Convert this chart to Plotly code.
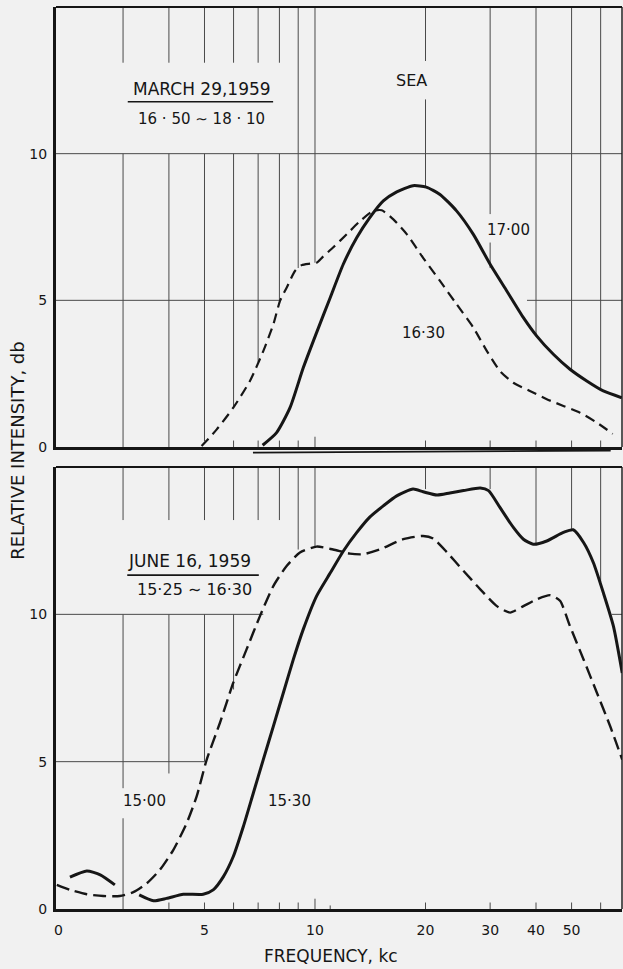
import math
import plotly.graph_objects as go

# ---------------- data (frequency in kc, relative intensity in db) ----------------
MAR_1700_F = [7.2, 7.86, 8.55, 9.29, 10.1, 11.0, 11.94, 13.0, 14.1, 15.35, 16.7, 18.5, 20.1,
              21.9, 24.3, 27.0, 30.0, 33.3, 36.96, 40.2, 44.6, 49.5, 55.0, 61.0, 68.5]
MAR_1700_V = [0.06, 0.49, 1.34, 2.7, 3.9, 5.09, 6.23, 7.14, 7.82, 8.39, 8.7, 8.91, 8.86,
              8.61, 8.05, 7.25, 6.23, 5.32, 4.41, 3.78, 3.16, 2.65, 2.25, 1.91, 1.68]

MAR_1630_F = [4.91, 5.40, 5.99, 6.65, 7.23, 7.70, 8.03, 8.37, 8.82, 9.2, 9.69, 10.1, 10.5,
              11.2, 12.2, 13.26, 14.42, 15.2, 16.35, 17.8, 19.7, 21.9, 24.3, 27.0, 29.4,
              31.9, 34.7, 38.5, 42.8, 47.5, 52.7, 58.6, 64.7]
MAR_1630_V = [0.03, 0.6, 1.34, 2.25, 3.27, 4.18, 4.98, 5.43, 6.0, 6.2, 6.25, 6.28, 6.48,
              6.8, 7.25, 7.7, 8.05, 8.07, 7.76, 7.25, 6.45, 5.66, 4.87, 4.07, 3.27,
              2.59, 2.19, 1.91, 1.63, 1.4, 1.17, 0.83, 0.45]

JUN_1530_F = [2.15, 2.39, 2.6, 2.85, None,
              3.32, 3.63, 3.94, 4.38, 4.96, 5.28, 5.63, 5.99, 6.38, 6.79, 7.23, 7.7, 8.2,
              8.73, 9.29, 10.1, 11.0, 11.95, 13.0, 14.1, 15.35, 16.7, 18.5, 19.7, 21.5,
              23.3, 25.4, 28.2, 29.7, 31.9, 34.7, 36.96, 39.3, 42.8, 47.5, 50.5, 53.9,
              57.3, 61.0, 65.0, 68.7]
JUN_1530_V = [1.08, 1.29, 1.16, 0.82, None,
              0.48, 0.28, 0.36, 0.5, 0.5, 0.65, 1.1, 1.78, 2.8, 3.93, 5.07, 6.2, 7.34,
              8.47, 9.49, 10.62, 11.4, 12.15, 12.78, 13.3, 13.68, 14.02, 14.25, 14.16, 14.05,
              14.12, 14.2, 14.29, 14.2, 13.63, 12.95, 12.55, 12.38, 12.49, 12.78, 12.87, 12.44,
              11.76, 10.74, 9.6, 8.01]

JUN_1500_F = [1.98, 2.15, 2.39, 2.65, 2.94, 3.2, 3.48, 3.78, 4.11, 4.47, 4.76, 5.07, 5.51,
              5.99, 6.51, 7.08, 7.7, 8.37, 9.1, 10.1, 11.2, 12.45, 13.5, 15.0, 17.4, 19.7,
              21.0, 22.9, 25.4, 28.2, 31.3, 34.0, 36.96, 40.2, 43.7, 46.5, 49.5, 53.9, 58.6,
              63.7, 68.7]
JUN_1500_V = [0.82, 0.65, 0.5, 0.44, 0.44, 0.57, 0.87, 1.33, 2.0, 2.91, 3.82, 5.07, 6.32,
              7.68, 8.81, 9.94, 10.96, 11.64, 12.1, 12.3, 12.2, 12.06, 12.04, 12.2, 12.55, 12.66,
              12.57, 12.1, 11.47, 10.85, 10.28, 10.06, 10.28, 10.51, 10.65, 10.46, 9.6, 8.47, 7.34,
              6.2, 5.07]

# axis ticks / range
X_MIN_KC = 1.97
X_MAX_KC = 68.6
Y_MAX = 15
X_TICK_VALS = [2, 5, 10, 20, 30, 40, 50]
X_TICK_TEXT = ["0", "5", "10", "20", "30", "40", "50"]
Y_TICK_VALS = [0, 5, 10]

# hand-drafted grid: vertical (freq, from, to), horizontal (value, f_from, f_to)
TOP_VGRID = [(3, 0, 10), (3, 13.1, 15), (4, 0, 10), (4, 13.1, 15), (5, 0.2, 10), (5, 13.1, 15),
             (6, 1.35, 10), (6, 13.1, 15), (7, 2.9, 10), (7, 13.1, 15), (8, 4.9, 10), (8, 13.1, 15),
             (9, 6.1, 15), (10, 6.28, 15), (20, 8.86, 11.85), (20, 13.16, 15),
             (30, 6.1, 6.97), (30, 7.94, 15), (40, 3.8, 15), (50, 2.6, 15), (60, 1.95, 15),
             (6, 0, 0.22), (7, 0, 0.22), (8, 0, 0.22), (9, 0, 0.22), (10, 0, 0.35),
             (20, 0, 0.22), (30, 0, 0.22), (40, 0, 0.22), (50, 0, 0.22), (60, 0, 0.22)]
TOP_HGRID = [(10, X_MIN_KC, X_MAX_KC), (5, X_MIN_KC, 8.03), (5, 37.8, X_MAX_KC)]

BOT_VGRID = [(3, 0, 3.08), (3, 4.1, 10), (3, 13.2, 15), (4, 4.6, 10), (4, 13.2, 15),
             (5, 5.0, 10), (5, 13.2, 15), (6, 7.45, 10), (6, 13.2, 15), (7, 13.2, 15),
             (8, 13.2, 15), (9, 12.2, 15), (10, 12.3, 15), (20, 14.25, 15), (30, 14.25, 15),
             (40, 12.4, 15), (50, 12.9, 15), (60, 11.1, 15),
             (4, 0, 0.22), (5, 0, 0.22), (6, 0, 0.22), (7, 0, 0.22), (8, 0, 0.22), (9, 0, 0.22),
             (10, 0, 0.35), (11, 0, 0.12), (20, 0, 0.22), (30, 0, 0.22), (40, 0, 0.22),
             (50, 0, 0.22), (60, 0, 0.22)]
BOT_HGRID = [(10, X_MIN_KC, 7.23), (10, 64.3, X_MAX_KC), (5, X_MIN_KC, 5.0)]

# text labels inside panels: (text, freq, value, size)
TOP_LABELS = [("MARCH 29,1959", 4.91, 12.2, 17), ("16 · 50 ∼ 18 · 10", 4.91, 11.17, 15),
              ("SEA", 18.3, 12.5, 16), ("17·00", 33.6, 7.4, 15), ("16·30", 19.8, 3.89, 15)]
BOT_LABELS = [("JUNE 16, 1959", 4.56, 11.81, 17), ("15·25 ∼ 16·30", 4.71, 10.85, 16),
              ("15·00", 3.43, 3.65, 15), ("15·30", 8.51, 3.68, 15)]
TOP_UNDERLINE = (11.77, 3.09, 7.69)
BOT_UNDERLINE = (11.33, 3.08, 7.03)

FONT = "DejaVu Sans"
INK = "#161616"
GRID = "#4a4a4a"
BG = "#f1f1f1"

fig = go.Figure()


def grid_trace(vgrid, hgrid, xa, ya):
    xs, ys = [], []
    for f, a, b in vgrid:
        xs += [f, f, None]
        ys += [a, b, None]
    for v, a, b in hgrid:
        xs += [a, b, None]
        ys += [v, v, None]
    return go.Scatter(x=xs, y=ys, mode="lines", xaxis=xa, yaxis=ya, hoverinfo="skip",
                      line=dict(color=GRID, width=1), showlegend=False)


fig.add_trace(grid_trace(TOP_VGRID, TOP_HGRID, "x", "y"))
fig.add_trace(grid_trace(BOT_VGRID, BOT_HGRID, "x2", "y2"))

for ul, xa, ya in [(TOP_UNDERLINE, "x", "y"), (BOT_UNDERLINE, "x2", "y2")]:
    fig.add_trace(go.Scatter(x=[ul[1], ul[2]], y=[ul[0], ul[0]], mode="lines", xaxis=xa, yaxis=ya,
                             line=dict(color=INK, width=1.6), showlegend=False, hoverinfo="skip"))

fig.add_trace(go.Scatter(x=MAR_1630_F, y=MAR_1630_V, mode="lines", xaxis="x", yaxis="y",
                         line=dict(color=INK, width=2.2, dash="10px,6px", shape="spline", smoothing=0.6),
                         name="16·30", showlegend=False))
fig.add_trace(go.Scatter(x=MAR_1700_F, y=MAR_1700_V, mode="lines", xaxis="x", yaxis="y",
                         line=dict(color=INK, width=3, shape="spline", smoothing=0.6),
                         name="17·00", showlegend=False))
fig.add_trace(go.Scatter(x=JUN_1500_F, y=JUN_1500_V, mode="lines", xaxis="x2", yaxis="y2",
                         line=dict(color=INK, width=2.4, dash="13px,6px", shape="spline", smoothing=0.6),
                         name="15·00", showlegend=False))
fig.add_trace(go.Scatter(x=JUN_1530_F, y=JUN_1530_V, mode="lines", xaxis="x2", yaxis="y2",
                         connectgaps=False,
                         line=dict(color=INK, width=3, shape="spline", smoothing=0.6),
                         name="15·30", showlegend=False))

annotations = []
for labels, xr, yr in [(TOP_LABELS, "x", "y"), (BOT_LABELS, "x2", "y2")]:
    for t, f, v, s in labels:
        annotations.append(dict(text=t, x=math.log10(f), y=v, xref=xr, yref=yr, showarrow=False,
                                font=dict(family=FONT, size=s, color=INK),
                                xanchor="center", yanchor="middle"))

annotations.append(dict(text="RELATIVE INTENSITY, db", xref="paper", yref="paper",
                        x=-0.067, y=0.508, textangle=-90, showarrow=False,
                        xanchor="center", yanchor="middle",
                        font=dict(family=FONT, size=18, color=INK)))
annotations.append(dict(text="FREQUENCY, kc", xref="paper", yref="paper",
                        x=0.486, y=-0.052, showarrow=False, xanchor="center", yanchor="middle",
                        font=dict(family=FONT, size=17, color=INK)))

shapes = []
for xr, yr in [("x domain", "y domain"), ("x2 domain", "y2 domain")]:
    shapes.append(dict(type="line", xref=xr, yref=yr, x0=0, x1=1, y0=1, y1=1,
                       line=dict(color=INK, width=2.2)))
    shapes.append(dict(type="line", xref=xr, yref=yr, x0=1, x1=1, y0=0, y1=1,
                       line=dict(color=INK, width=1.4)))
# stray pen stroke just below the upper panel's axis
shapes.append(dict(type="line", xref="x domain", yref="y domain", x0=0.348, x1=0.98,
                   y0=-0.0128, y1=-0.008, line=dict(color=INK, width=1.8)))

xrange = [math.log10(X_MIN_KC), math.log10(X_MAX_KC)]
xcommon = dict(type="log", range=xrange, showgrid=False, zeroline=False, ticks="",
               showline=True, linecolor=INK, linewidth=3, tickvals=X_TICK_VALS,
               ticktext=X_TICK_TEXT, tickfont=dict(family=FONT, size=14, color=INK))
ycommon = dict(range=[0, Y_MAX], showgrid=False, zeroline=False, ticks="", showline=True,
               linecolor=INK, linewidth=3, tickvals=Y_TICK_VALS, ticklabelstandoff=3,
               tickfont=dict(family=FONT, size=14, color=INK))

fig.update_layout(
    width=623, height=969,
    margin=dict(l=56, r=1, t=7, b=60),
    paper_bgcolor=BG, plot_bgcolor=BG,
    showlegend=False,
    xaxis=dict(xcommon, anchor="y", domain=[0, 1], showticklabels=False),
    yaxis=dict(ycommon, anchor="x", domain=[0.5122, 1]),
    xaxis2=dict(xcommon, anchor="y2", domain=[0, 1], ticklabelstandoff=6),
    yaxis2=dict(ycommon, anchor="x2", domain=[0, 0.49]),
    annotations=annotations,
    shapes=shapes,
)

# remove the default page margin so the figure sits at the window's top-left corner
fig.write_html("out.html", config={"displayModeBar": False},
               post_script="document.body.style.margin='0';document.body.style.overflow='hidden';")
